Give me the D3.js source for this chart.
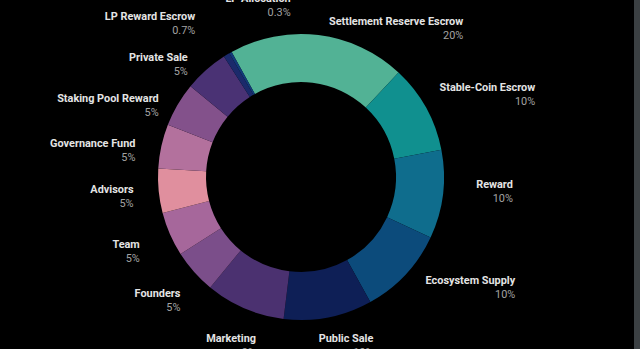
<!DOCTYPE html>
<html>
<head>
<meta charset="utf-8">
<script src="https://cdn.jsdelivr.net/npm/d3@7"></script>
<style>
html,body{margin:0;padding:0;background:#000;}
svg{display:block;}
</style>
</head>
<body>
<svg id="chart" width="640" height="349"></svg>
<script>
// ---- data ----
const categories = ["Settlement Reserve Escrow","Stable-Coin Escrow","Reward","Ecosystem Supply","Public Sale","Marketing","Founders","Team","Advisors","Governance Fund","Staking Pool Reward","Private Sale","LP Reward Escrow","LP Allocation"];
const values = [20,10,10,10,10,9,5,5,5,5,5,5,0.7,0.3];
const valueLabels = ["20%","10%","10%","10%","10%","9%","5%","5%","5%","5%","5%","5%","0.7%","0.3%"];
const colors = ["#52b295","#10908f","#0f6d8d","#0c4b7b","#0e1f56","#4b3170","#7b4e8a","#a6679b","#e08f9e","#b3719d","#83518b","#4a3274","#1b2a6b","#123b7a"];

// ---- layout (label placement: angle nudge in degrees, radius of label block centre) ----
const labelNudge = [25.5,5,-3,-10,-4,-0.6,1,0.6,0,-5,-10,-10,-13,15.5];
const labelRadius = [177,204,194,202,174,182,189,190,190,210,206,182,216,177];

const W = 640, H = 349, cx = 301, cy = 177, outerR = 143, innerR = 95;
const startDeg = -29;
const fontSize = 10.9;
const svg = d3.select("#chart");
svg.append("rect").attr("width", W).attr("height", H).attr("fill", "#000");
svg.append("rect").attr("x", 634).attr("y", 0).attr("width", 6).attr("height", H).attr("fill", "#3b4043");

const data = categories.map((c, i) => ({name: c, value: values[i], label: valueLabels[i], color: colors[i], i}));
const pie = d3.pie().value(d => d.value).sort(null)
  .startAngle(startDeg * Math.PI / 180).endAngle((startDeg + 360) * Math.PI / 180);
const arcs = pie(data);
const arc = d3.arc().innerRadius(innerR).outerRadius(outerR);

const g = svg.append("g").attr("transform", `translate(${cx},${cy})`);
g.selectAll("path").data(arcs).join("path")
  .attr("d", arc).attr("fill", d => d.data.color);

const lg = svg.append("g");
arcs.forEach((a, i) => {
  const mid = (a.startAngle + a.endAngle) / 2 + labelNudge[i] * Math.PI / 180;
  const r = labelRadius[i];
  const bx = cx + r * Math.sin(mid), by = cy - r * Math.cos(mid);
  const grp = lg.append("g");
  const t1 = grp.append("text").text(a.data.name)
    .attr("font-family", "Roboto, sans-serif").attr("font-weight", 700)
    .attr("font-size", fontSize).attr("fill", "#e4e4e4").attr("text-anchor", "end");
  const t2 = grp.append("text").text(a.data.label)
    .attr("font-family", "Roboto, sans-serif").attr("font-weight", 400)
    .attr("font-size", fontSize).attr("fill", "#a3a3a3").attr("text-anchor", "end");
  const w = Math.max(t1.node().getComputedTextLength(), t2.node().getComputedTextLength());
  const right = bx + w / 2;
  t1.attr("x", right).attr("y", by - 3);
  t2.attr("x", right).attr("y", by + 11.2);
});
</script>
</body>
</html>
